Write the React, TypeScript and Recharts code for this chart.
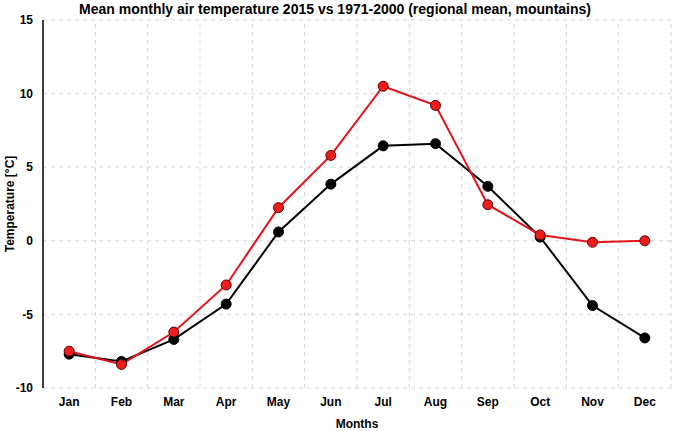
import React from 'react';
import {
    LineChart,
    Line,
    XAxis,
    YAxis,
    CartesianGrid,
    ReferenceLine,
} from 'recharts';

document.body.style.margin = '0';

const months = ['Jan', 'Feb', 'Mar', 'Apr', 'May', 'Jun', 'Jul', 'Aug', 'Sep', 'Oct', 'Nov', 'Dec'];
const monthIndex = [1, 2, 3, 4, 5, 6, 7, 8, 9, 10, 11, 12];
const mean2015 = [-7.5, -8.4, -6.2, -3.0, 2.25, 5.8, 10.5, 9.2, 2.45, 0.4, -0.1, 0.0];
const mean1971 = [-7.7, -8.2, -6.7, -4.3, 0.6, 3.85, 6.45, 6.6, 3.7, 0.25, -4.4, -6.6];
const monthEdges = [0.5, 1.5, 2.5, 3.5, 4.5, 5.5, 6.5, 7.5, 8.5, 9.5, 10.5, 11.5, 12.5];
const yTicks = [-10, -5, 0, 5, 10, 15];

const data = monthIndex.map((m, i) => ({
    m,
    y2015: mean2015[i],
    y1971: mean1971[i],
}));

const font = '"Liberation Sans", Arial, sans-serif';
const tickStyle = { fontFamily: font, fontSize: 12, fontWeight: 'bold', fill: '#000' };

const App: React.FC = () => {
    return (
        <div style={{ position: 'relative', width: 675, height: 431, fontFamily: font }}>
            <div
                style={{
                    position: 'absolute',
                    top: 1,
                    left: 0,
                    width: 670,
                    textAlign: 'center',
                    fontSize: 14,
                    fontWeight: 'bold',
                }}
            >
                Mean monthly air temperature 2015 vs 1971-2000 (regional mean, mountains)
            </div>
            <LineChart
                width={675}
                height={431}
                data={data}
                margin={{ top: 20, right: 4, bottom: 0, left: 10 }}
            >
                <CartesianGrid
                    vertical={false}
                    stroke='#d6d6d6'
                    strokeDasharray='4 4'
                />
                {monthEdges.map((e) => (
                    <ReferenceLine
                        key={e}
                        xAxisId='labels'
                        x={e}
                        stroke='#d6d6d6'
                        strokeDasharray='4 4'
                    />
                ))}
                <XAxis
                    xAxisId='edges'
                    type='number'
                    dataKey='m'
                    domain={[0.5, 12.5]}
                    ticks={monthEdges}
                    tick={false}
                    tickSize={-3}
                    tickLine={{ stroke: '#000', strokeWidth: 1 }}
                    axisLine={{ stroke: '#000', strokeWidth: 1.5 }}
                    height={0}
                    allowDataOverflow
                />
                <XAxis
                    xAxisId='labels'
                    type='number'
                    dataKey='m'
                    domain={[0.5, 12.5]}
                    ticks={monthIndex}
                    tickFormatter={(v: number) => months[v - 1]}
                    tickLine={false}
                    axisLine={false}
                    tickSize={0}
                    tickMargin={9}
                    tick={tickStyle}
                    height={43}
                    interval={0}
                    label={{
                        value: 'Months',
                        position: 'insideBottom',
                        offset: 3,
                        style: tickStyle,
                    }}
                    allowDataOverflow
                />
                <YAxis
                    type='number'
                    domain={[-10, 15]}
                    ticks={yTicks}
                    width={33}
                    tickLine={false}
                    tickSize={0}
                    tickMargin={10}
                    axisLine={{ stroke: '#000', strokeWidth: 1.5 }}
                    tick={tickStyle}
                    label={{
                        value: 'Temperature [°C]',
                        angle: -90,
                        position: 'insideLeft',
                        offset: 0,
                        style: { ...tickStyle, textAnchor: 'middle' },
                    }}
                />
                <Line
                    xAxisId='labels'
                    dataKey='y1971'
                    stroke='#000'
                    strokeWidth={2}
                    dot={{ r: 5, fill: '#000', stroke: '#000', strokeWidth: 1 }}
                    isAnimationActive={false}
                />
                <Line
                    xAxisId='labels'
                    dataKey='y2015'
                    stroke='#e3141b'
                    strokeWidth={2}
                    dot={{ r: 5, fill: '#ee1c1c', stroke: '#5a0000', strokeWidth: 1 }}
                    isAnimationActive={false}
                />
            </LineChart>
        </div>
    );
};

export default App;
